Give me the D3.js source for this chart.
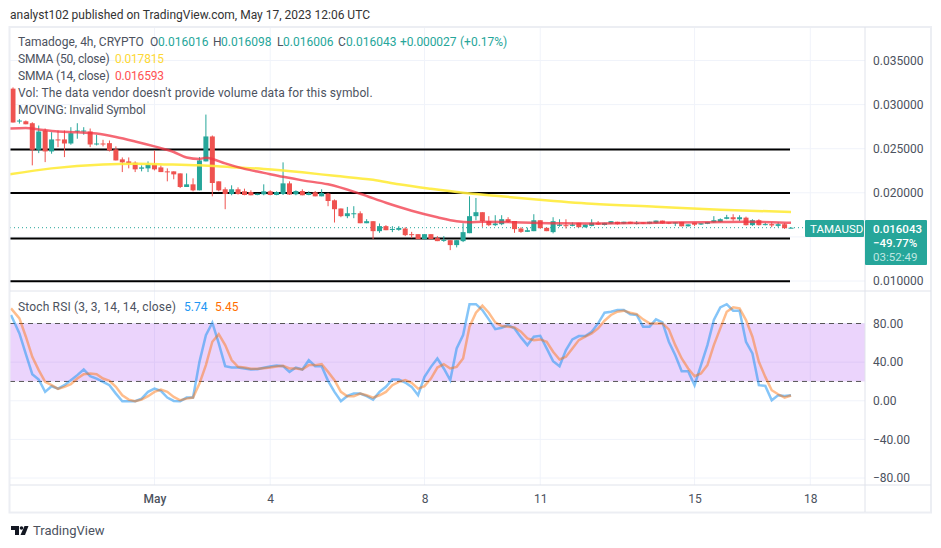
<!DOCTYPE html>
<head>
    <title>TAMAUSD</title>
    <script src="https://cdnjs.cloudflare.com/ajax/libs/d3/7.1.1/d3.min.js"></script>
    <style>
        body { margin: 0; background: #fff; }
        text { font-family: Roboto, sans-serif; font-size: 12px; fill: #4c525e; }
        .axis path, .axis line { display: none; }
        .axis text { fill: #4c525e; font-size: 12px; }
    </style>
</head>
<body>
    <div id="chart"></div>
    <script type="text/javascript">
        const width = 941;
        const height = 548;
        const plotLeft = 10;
        const plotRight = 865;
        const frameRight = 931;
        const seriesEnd = 790;

        // open, high, low, close - 4h bars starting Apr 27 08:00
        const candles = [
            [.03181,.03195,.02797,.02797],[.02808,.02836,.02785,.02819],[.02811,.02820,.02777,.02777],[.02789,.02800,.02311,.02488],
            [.02488,.02763,.02450,.02695],[.02706,.02729,.02348,.02469],[.02469,.02687,.02443,.02605],[.02605,.02706,.02518,.02595],
            [.02605,.02706,.02405,.02559],[.02559,.02744,.02545,.02676],[.02695,.02789,.02613,.02706],[.02695,.02744,.02658,.02706],
            [.02695,.02729,.02518,.02548],[.02553,.02658,.02537,.02559],[.02559,.02601,.02526,.02551],[.02563,.02593,.02469,.02480],
            [.02492,.02526,.02367,.02367],[.02379,.02401,.02235,.02345],[.02356,.02401,.02277,.02333],[.02341,.02356,.02235,.02266],
            [.02273,.02311,.02243,.02288],[.02277,.02356,.02235,.02319],[.02319,.02480,.02254,.02266],[.02288,.02311,.02235,.02235],
            [.02243,.02277,.02130,.02232],[.02243,.02243,.02153,.02209],[.02220,.02220,.02054,.02066],[.02066,.02220,.02066,.02096],
            [.02096,.02164,.02017,.02028],[.02028,.02405,.02028,.02367],[.02356,.02887,.02356,.02639],[.02639,.02650,.01960,.02111],
            [.02130,.02130,.02017,.02028],[.02040,.02062,.01814,.01986],[.01986,.02085,.01972,.02040],[.02040,.02062,.01980,.01986],
            [.02017,.02047,.01972,.01975],[.02009,.02028,.01972,.01972],[.01975,.01991,.01972,.01991],[.01983,.02096,.01972,.02017],
            [.02017,.02028,.01972,.01975],[.01975,.02017,.01972,.02009],[.01986,.02345,.01975,.02107],[.02107,.02130,.01975,.01980],
            [.01983,.02028,.01972,.02020],[.02020,.02040,.01972,.01972],[.01975,.02017,.01972,.01998],[.02006,.02020,.01960,.01960],
            [.01960,.02040,.01960,.01998],[.01991,.02000,.01848,.01907],[.01915,.01925,.01663,.01814],[.01822,.01822,.01723,.01735],
            [.01735,.01840,.01712,.01768],[.01760,.01848,.01712,.01768],[.01768,.01790,.01655,.01655],[.01655,.01701,.01655,.01678],
            [.01678,.01678,.01475,.01565],[.01565,.01652,.01546,.01622],[.01622,.01633,.01576,.01576],[.01585,.01622,.01554,.01590],
            [.01580,.01622,.01570,.01602],[.01595,.01610,.01509,.01520],[.01531,.01557,.01486,.01525],[.01531,.01531,.01475,.01475],
            [.01475,.01531,.01475,.01531],[.01531,.01531,.01475,.01475],[.01486,.01509,.01452,.01452],[.01460,.01509,.01444,.01466],
            [.01463,.01463,.01350,.01407],[.01407,.01463,.01381,.01463],[.01452,.01655,.01441,.01554],[.01542,.01960,.01542,.01735],
            [.01735,.01941,.01689,.01780],[.01780,.01780,.01614,.01678],[.01678,.01735,.01622,.01633],[.01633,.01746,.01622,.01652],
            [.01644,.01746,.01633,.01701],[.01701,.01723,.01660,.01670],[.01680,.01680,.01546,.01588],[.01595,.01610,.01546,.01557],
            [.01557,.01605,.01557,.01576],[.01565,.01757,.01565,.01689],[.01689,.01689,.01590,.01600],[.01603,.01603,.01565,.01565],
            [.01554,.01723,.01540,.01678],[.01625,.01700,.01615,.01640],[.01633,.01700,.01595,.01630],[.01625,.01665,.01620,.01640],
            [.01660,.01660,.01610,.01610],[.01610,.01640,.01605,.01640],[.01625,.01700,.01620,.01660],[.01660,.01680,.01635,.01640],
            [.01635,.01660,.01630,.01660],[.01650,.01680,.01645,.01678],[.01672,.01672,.01640,.01645],[.01650,.01672,.01645,.01672],
            [.01672,.01672,.01648,.01650],[.01650,.01680,.01640,.01658],[.01665,.01665,.01645,.01650],[.01650,.01672,.01645,.01672],
            [.01655,.01685,.01650,.01685],[.01685,.01685,.01650,.01652],[.01665,.01665,.01645,.01650],[.01652,.01665,.01622,.01665],
            [.01670,.01670,.01620,.01620],[.01620,.01642,.01618,.01642],[.01662,.01662,.01622,.01638],[.01640,.01655,.01635,.01655],
            [.01648,.01670,.01645,.01670],[.01665,.01735,.01660,.01689],[.01670,.01710,.01665,.01701],[.01705,.01750,.01700,.01723],
            [.01723,.01757,.01682,.01700],[.01700,.01745,.01680,.01723],[.01718,.01730,.01630,.01633],[.01633,.01700,.01625,.01689],
            [.01689,.01700,.01630,.01633],[.01640,.01660,.01630,.01645],[.01645,.01665,.01610,.01630],[.01625,.01665,.01610,.01644],
            [.01644,.01655,.01590,.01599],[.016016,.016098,.016006,.016043]
        ];

        // moving averages read at bar index
        const smma14 = [[-0.5,.02729],[2,.02735],[4,.02718],[7,.02695],[10,.02687],[13,.02672],[16,.02633],[19,.02582],[22,.02526],
            [25,.02463],[27,.02401],[29,.02384],[30,.02396],[31,.02384],[33,.02333],[36,.02271],[39,.02226],[42,.02181],[45,.02141],
            [49,.02096],[54,.01989],[58,.01887],[62,.01797],[66,.01723],[69,.01678],[71,.01667],[73,.01672],[78,.01667],[84,.01655],
            [90,.01652],[100,.01661],[108,.01667],[114,.01672],[118,.01667],[121,.016593]];
        const smma50 = [[-0.5,.02210],[6,.02277],[14,.02322],[19,.02330],[24,.02322],[29,.02311],[34,.02291],[39,.02271],[45,.02232],
            [50,.02192],[56,.02147],[60,.02096],[65,.02045],[70,.02000],[75,.01966],[81,.01927],[90,.01876],[100,.01842],
            [110,.01808],[121,.017815]];

        // levels drawn by hand on the chart
        const levels = [.0249, .01998, .01483, .00997];

        const stochK = [88.8,69.7,48.3,27.5,22,9.2,15,12.6,16.1,21.3,26.5,32.4,25.4,23,19.6,16.1,7.4,-0.5,-0.5,-0.5,
            2.2,9.2,12.6,10.2,3.3,-0.2,-0.5,3.3,3.3,40.3,68,80.8,59.4,35.8,34.4,34.4,33.4,32.4,32.7,34.1,
            35.5,36.5,35.8,29.9,34.4,32.4,42,35.8,35.8,20.6,9.2,-0.5,5,7.4,7.4,4.7,1.2,9.2,14.4,22,
            22,18.9,14.4,5.7,24.7,35.1,43.8,33.4,21.3,54.2,68,100,100,94,84.3,74.2,75.6,78.4,74.9,65.6,
            57.6,66.3,67.3,54.2,41,35.8,52.4,63.5,67,67,71.5,80.1,91.2,92.2,94,94,89.5,88.8,76.7,76.7,
            84.3,81.2,61.1,47.2,30.6,30.6,16.1,36.9,57.6,83.6,96.7,100,93.3,93.3,61.1,49,16.1,15.4,0.5,5.7,5,5.74];
        const stochD = [95.7,85.3,66.3,45.5,31.7,19.6,16.1,12.3,14.4,17.1,23,27.5,28.2,27.5,23,20.6,14.4,5.7,1.2,-0.5,
            1.2,4.7,9.2,11.6,9.2,4,0.5,2.2,3.3,17.8,36.9,61.1,69,57.6,42.1,35.1,34.4,33.1,33.1,33.7,
            34.4,35.5,36.2,33.4,33.4,32.4,36.9,36.9,37.9,29.9,21.3,9.2,4.7,4.7,7.4,5.7,3.3,5.7,9.2,16.1,
            19.6,21.3,18.5,12.6,15.1,23,34.4,37.9,33.4,35.1,43.8,76.7,91.2,98.5,91.2,81.2,77.4,76.7,76,71.5,
            64.6,62.8,63.5,61.1,50.7,42.7,45.5,54.2,62.8,66.3,69.7,74.9,82.9,88.8,92.2,93.3,91.2,89.8,84.3,80.1,
            80.1,80.1,73.9,57.6,43.8,33.4,25.4,28.2,36.9,57.6,74.9,92.2,96.7,95.7,83.6,66.3,40.3,24.7,10.9,6.7,3.3,5.45];

        const barTime = i => new Date(Date.UTC(2023, 3, 27, 8 + i * 4));

        const svg = d3.select("#chart")
            .append("svg")
            .attr("width", width)
            .attr("height", height);

        // X Scale
        const xScale = d3.scaleUtc()
            .domain([barTime(0), barTime(124)])
            .range([13, 810.3]);
        const x = i => xScale(barTime(i));

        // Y Scales
        const yPrice = d3.scaleLinear().domain([.01, .035]).range([281, 60.5]);
        const yStoch = d3.scaleLinear().domain([-80, 80]).range([478, 323.5]);

        // Grid
        const timeTicks = [new Date(Date.UTC(2023,4,1)), new Date(Date.UTC(2023,4,4)), new Date(Date.UTC(2023,4,8)),
            new Date(Date.UTC(2023,4,11)), new Date(Date.UTC(2023,4,15)), new Date(Date.UTC(2023,4,18))];
        const priceTicks = [.01, .015, .02, .025, .03, .035];
        const stochTicks = [-80, -40, 0, 40, 80];

        const grid = svg.append("g").attr("stroke", "#f0f3fa");
        grid.selectAll("line.v")
            .data(timeTicks)
            .enter().append("line")
            .attr("class", "v")
            .attr("x1", d => xScale(d)).attr("x2", d => xScale(d))
            .attr("y1", 27).attr("y2", 485);
        grid.selectAll("line.p")
            .data(priceTicks)
            .enter().append("line")
            .attr("class", "p")
            .attr("x1", plotLeft).attr("x2", plotRight)
            .attr("y1", d => yPrice(d)).attr("y2", d => yPrice(d));
        grid.selectAll("line.s")
            .data(stochTicks)
            .enter().append("line")
            .attr("class", "s")
            .attr("x1", plotLeft).attr("x2", plotRight)
            .attr("y1", d => yStoch(d)).attr("y2", d => yStoch(d));

        // Price pane
        svg.append("g")
            .selectAll("line")
            .data(levels)
            .enter().append("line")
            .attr("x1", plotLeft).attr("x2", seriesEnd)
            .attr("y1", d => yPrice(d)).attr("y2", d => yPrice(d))
            .attr("stroke", "#000")
            .attr("stroke-width", 2);

        svg.append("line")
            .attr("x1", plotLeft).attr("x2", 805)
            .attr("y1", yPrice(.016043)).attr("y2", yPrice(.016043))
            .attr("stroke", "#26a69a")
            .attr("stroke-dasharray", "1 3");

        const color = d => d[3] >= d[0] ? "#26a69a" : "#ef5350";
        const bars = svg.append("g")
            .selectAll("g")
            .data(candles)
            .enter().append("g");
        bars.append("line")
            .attr("x1", (d, i) => x(i)).attr("x2", (d, i) => x(i))
            .attr("y1", d => yPrice(d[1])).attr("y2", d => yPrice(d[2]))
            .attr("stroke", color);
        bars.append("rect")
            .attr("x", (d, i) => x(i) - 2.5)
            .attr("width", 5)
            .attr("y", d => yPrice(Math.max(d[0], d[3])))
            .attr("height", d => Math.max(1, Math.abs(yPrice(d[0]) - yPrice(d[3]))))
            .attr("fill", color);

        const priceLine = d3.line().x(d => x(d[0])).y(d => yPrice(d[1])).curve(d3.curveMonotoneX);
        svg.append("path").datum(smma50)
            .attr("d", priceLine)
            .attr("fill", "none")
            .attr("stroke", "#ffeb3b")
            .attr("stroke-width", 2.5)
            .attr("opacity", 0.9);
        svg.append("path").datum(smma14)
            .attr("d", priceLine)
            .attr("fill", "none")
            .attr("stroke", "#f23645")
            .attr("stroke-width", 2.5)
            .attr("opacity", 0.75);

        // Stoch pane
        svg.append("rect")
            .attr("x", plotLeft).attr("width", plotRight - plotLeft)
            .attr("y", yStoch(80)).attr("height", yStoch(20) - yStoch(80))
            .attr("fill", "#9c27f0")
            .attr("opacity", 0.2);
        svg.append("g")
            .selectAll("line")
            .data([80, 20])
            .enter().append("line")
            .attr("x1", plotLeft).attr("x2", plotRight)
            .attr("y1", d => yStoch(d)).attr("y2", d => yStoch(d))
            .attr("stroke", "#555")
            .attr("stroke-dasharray", "5 4");

        const stochLine = d3.line().x((d, i) => i == 0 ? 11 : x(i)).y(d => yStoch(d));
        svg.append("path").datum(stochK)
            .attr("d", stochLine)
            .attr("fill", "none")
            .attr("stroke", "#2196f3")
            .attr("stroke-width", 2.5)
            .attr("opacity", 0.55);
        svg.append("path").datum(stochD)
            .attr("d", stochLine)
            .attr("fill", "none")
            .attr("stroke", "#ff6d00")
            .attr("stroke-width", 2.5)
            .attr("opacity", 0.45);

        // Frame
        const frame = svg.append("g").attr("stroke", "#e0e3eb").attr("fill", "none");
        frame.append("rect")
            .attr("x", 9.5).attr("y", 27).attr("width", frameRight - 9.5).attr("height", 485.5)
            .attr("stroke", "#eceef3").attr("stroke-width", 2);
        frame.append("line").attr("x1", plotRight).attr("x2", plotRight).attr("y1", 27).attr("y2", 512);
        frame.append("line").attr("x1", plotLeft).attr("x2", frameRight).attr("y1", 291).attr("y2", 291);
        frame.append("line").attr("x1", plotLeft).attr("x2", frameRight).attr("y1", 485).attr("y2", 485);

        // Axes
        const priceAxis = d3.axisRight(yPrice)
            .tickValues([.01, .02, .025, .03, .035])
            .tickFormat(d3.format(".6f"))
            .tickSize(0)
            .tickPadding(8);
        svg.append("g")
            .attr("class", "axis")
            .attr("transform", "translate(" + plotRight + ",0)")
            .call(priceAxis);

        const stochAxis = d3.axisRight(yStoch)
            .tickValues(stochTicks)
            .tickFormat(d => (d < 0 ? "\u2212" : "") + Math.abs(d).toFixed(2))
            .tickSize(0)
            .tickPadding(8);
        svg.append("g")
            .attr("class", "axis")
            .attr("transform", "translate(" + plotRight + ",0)")
            .call(stochAxis);

        const timeAxis = d3.axisBottom(xScale)
            .tickValues(timeTicks)
            .tickFormat(d => d.getUTCDate() == 1 ? "May" : d.getUTCDate())
            .tickSize(0)
            .tickPadding(8);
        const timeG = svg.append("g")
            .attr("class", "axis")
            .attr("transform", "translate(0,486)")
            .call(timeAxis);
        timeG.selectAll("text").filter(d => d.getUTCDate() == 1).style("font-weight", "500");

        // Price tags
        svg.append("rect").attr("x", 805).attr("y", 220).attr("width", 59).attr("height", 17).attr("rx", 1).attr("fill", "#26a69a");
        svg.append("rect").attr("x", 865).attr("y", 220).attr("width", 62).attr("height", 45).attr("rx", 1).attr("fill", "#26a69a");
        const tags = [
            ["TAMAUSD", 810, 232.5, "#fff", 400],
            ["0.016043", 873, 232.5, "#fff", 500],
            ["\u221249.77%", 873, 247, "#fff", 500],
            ["03:52:49", 873, 261, "#bfe6e1", 400]
        ];
        svg.append("g").selectAll("text")
            .data(tags)
            .enter().append("text")
            .attr("x", d => d[1]).attr("y", d => d[2])
            .style("fill", d => d[3])
            .style("font-size", "11.5px")
            .style("font-weight", d => d[4])
            .text(d => d[0]);

        // Legend text: label, x, y, colour, letter spacing
        const green = "#26a69a";
        const legend = [
            ["analyst102 published on TradingView.com, May 17, 2023 12:06 UTC", 10, 19, "#333", 0],
            ["Tamadoge, 4h, CRYPTO", 18, 46, "#4c525e", 0],
            ["O", 150, 46, "#4c525e", 0], ["0.016016", 158, 46, green, 0],
            ["H", 213, 46, "#4c525e", 0], ["0.016098", 221, 46, green, 0],
            ["L", 277, 46, "#4c525e", 0], ["0.016006", 283, 46, green, 0],
            ["C", 338, 46, "#4c525e", 0], ["0.016043", 346, 46, green, 0],
            ["+0.000027", 400, 46, green, -0.1], ["(+0.17%)", 460, 46, green, 0],
            ["SMMA (50, close)", 18, 63, "#4c525e", -0.2], ["0.017815", 115, 63, "#fdd835", -0.2],
            ["SMMA (14, close)", 18, 80, "#4c525e", -0.2], ["0.016593", 115, 80, "#ff5252", -0.2],
            ["Vol: The data vendor doesn't provide volume data for this symbol.", 18, 97, "#4c525e", 0.12],
            ["MOVING: Invalid Symbol", 18, 114, "#4c525e", -0.1],
            ["Stoch RSI (3, 3, 14, 14, close)", 18, 311, "#4c525e", 0.16],
            ["5.74", 184, 311, "#2196f3", 0], ["5.45", 215, 311, "#ff6d00", 0]
        ];
        svg.append("g").selectAll("text")
            .data(legend)
            .enter().append("text")
            .attr("x", d => d[1]).attr("y", d => d[2])
            .style("fill", d => d[3])
            .style("letter-spacing", d => d[4] + "px")
            .text(d => d[0]);

        // Logo
        const logo = svg.append("g").attr("fill", "#131722");
        logo.append("path").attr("d", "M11 526h8v9h-4v-5h-4z");
        logo.append("circle").attr("cx", 21.5).attr("cy", 528).attr("r", 1.8);
        logo.append("path").attr("d", "M24.5 526h4l-3.5 9h-4.5z");
        svg.append("text")
            .attr("x", 33).attr("y", 535)
            .style("font-size", "13px")
            .text("TradingView");
    </script>
</body>
